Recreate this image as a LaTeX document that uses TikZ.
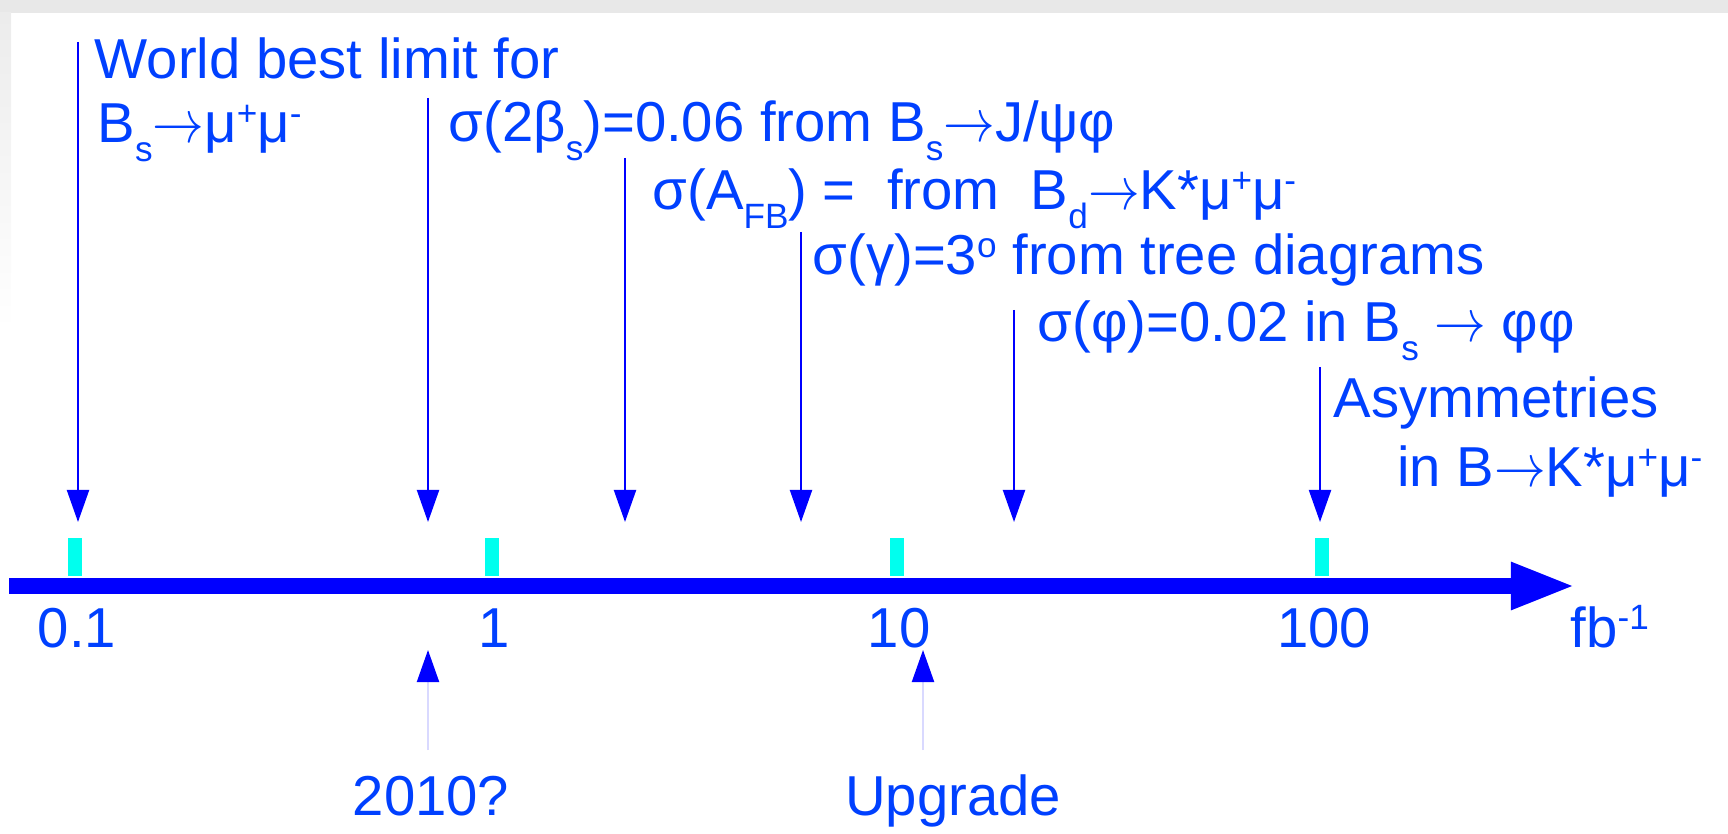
\documentclass[tikz,border=0pt]{standalone}
\usepackage{fontspec}
\setmainfont{Liberation Sans}
\usetikzlibrary{arrows.meta}
\definecolor{txtblue}{RGB}{0,64,255}
\definecolor{axblue}{RGB}{0,0,255}
\definecolor{tickcyan}{RGB}{0,255,238}
\newcommand{\lowidx}[1]{\raisebox{-5.2pt}{\fontsize{10}{10}\selectfont #1}}
\newcommand{\highidx}[1]{\raisebox{5pt}{\fontsize{10}{10}\selectfont #1}}
\newcommand{\decay}{\smash{\scalebox{0.85}[1]{$\rightarrow$}}}
\begin{document}
\begin{tikzpicture}[x=0.01cm,y=-0.01cm,
  every node/.style={font=\fontsize{16}{16}\selectfont,text=txtblue,inner sep=0pt},
  lbl/.style={anchor=base west},
  down/.style={axblue,line width=0.6pt,-{Triangle[length=3.2mm,width=2.2mm]}},
  up/.style={blue!15,line width=0.6pt,-{Triangle[length=3.2mm,width=2.2mm,color=axblue]}}]
% page frame
\useasboundingbox (0,0) rectangle (1728,834);
\fill[gray!18] (0,0) rectangle (1728,13);
\shade[top color=gray!15,bottom color=white] (0,13) rectangle (11,330);
% luminosity axis
\coordinate (ax0) at (9,586);
\coordinate (ax1) at (1576,586);
\draw[axblue,line width=4.8pt,-{Triangle[length=6.5mm,width=4.3mm]}] (ax0) -- (ax1);
\foreach \x/\v [count=\i] in {75/0.1,492/1,897/10,1322/100} {
  \fill[tickcyan] (\x-7,538) rectangle (\x+7,576);
  \node[anchor=base] (dec\i) at (\x+2,647) {\v};
}
\node[lbl] (unit) at (1570,647) {fb\highidx{-1}};
% measurements, arrows from the top
\foreach \x/\y [count=\i] in {78/42,428/98,625/158,801/232,1014/310,1320/367} {
  \coordinate (top\i) at (\x,\y);
  \coordinate (tip\i) at (\x,522);
  \draw[down] (top\i) -- (tip\i);
}
\node[lbl] (best) at (94,79) {World best limit for};
\node[lbl] (bsmumu) at (97,143) {B\lowidx{s}\decay μ\highidx{+}μ\highidx{-}};
\node[lbl] (beta) at (448,142) {σ(2β\lowidx{s})=0.06 from B\lowidx{s}\decay J/ψφ};
\node[lbl] (afb) at (652,210) {σ(A\lowidx{FB}) =\ \ from\ \ B\lowidx{d}\decay K*μ\highidx{+}μ\highidx{-}};
\node[lbl] (gamma) at (812,275) {σ(γ)=3\highidx{o} from tree diagrams};
\node[lbl] (phi) at (1037,342) {σ(φ)=0.02 in B\lowidx{s} \decay\ φφ};
\node[lbl] (asym) at (1333,418) {Asymmetries};
\node[anchor=base east] (asymb) at (1703,487) {in B\decay K*μ\highidx{+}μ\highidx{-}};
% milestones, arrows from below
\foreach \x/\n in {428/run,923/upg} {
  \coordinate (\n foot) at (\x,750);
  \coordinate (\n tip) at (\x,650);
  \draw[up] (\n foot) -- (\n tip);
}
\node[anchor=base] (run) at (431,815) {2010?};
\node[anchor=base] (upg) at (953,815) {Upgrade};
\end{tikzpicture}
\end{document}
